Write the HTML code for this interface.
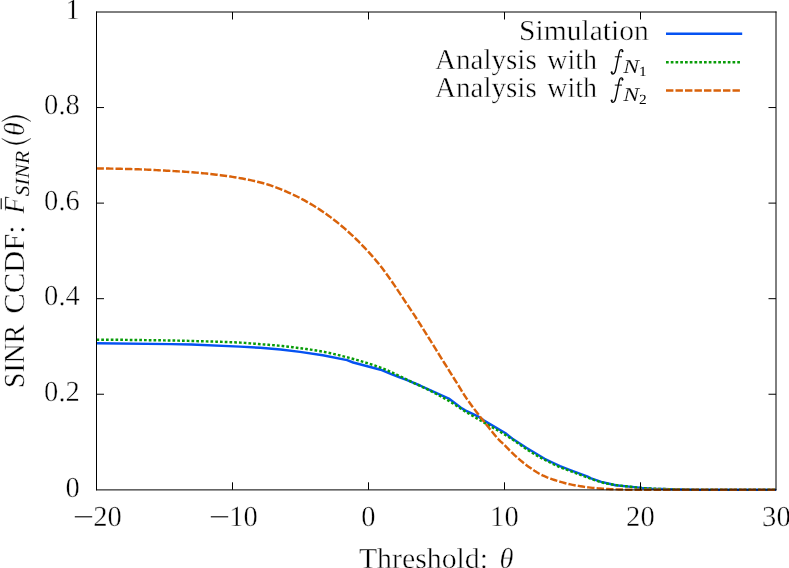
<!DOCTYPE html>
<html><head><meta charset="utf-8"><title>SINR CCDF</title>
<style>html,body{margin:0;padding:0;background:#fff;}svg{display:block;}text{font-family:"Liberation Serif",serif;fill:#000;text-rendering:geometricPrecision;stroke:#fff;stroke-width:0.4px;paint-order:fill stroke;}.i{font-style:italic;}.t{filter:grayscale(1);}</style></head><body>
<svg width="789" height="568" viewBox="0 0 789 568">
<rect x="0" y="0" width="789" height="568" fill="#fff"/>
<g fill="none" stroke-width="2.45" stroke-linejoin="round">
<path d="M96.5,343.3 L171.0,344.1 L191.4,344.5 L240.0,346.6 L260.3,347.8 L280.6,349.5 L300.0,351.9 L322.8,355.2 L347.1,360.1 L353.2,362.5 L380.6,369.7 L391.3,374.2 L398.9,377.0 L406.5,379.8 L420.0,385.5 L430.0,390.2 L448.8,398.6 L461.0,407.7 L465.2,410.4 L478.5,416.7 L484.1,420.6 L505.2,433.0 L512.5,438.8 L526.3,447.7 L544.6,458.8 L554.5,463.5 L560.0,466.2 L570.9,470.3 L587.1,476.4 L591.1,478.4 L601.3,481.9 L611.4,484.3 L615.5,485.3 L631.7,486.9 L641.8,488.0 L652.0,488.6 L670.0,489.2 L700.0,489.8 L776.0,489.8" stroke="#0552f2"/>
<path d="M96.5,339.70 L98.5,339.70 L100.5,339.71 L102.5,339.71 L104.5,339.72 L106.5,339.73 L108.5,339.74 L110.5,339.75 L112.5,339.76 L114.5,339.78 L116.5,339.79 L118.5,339.81 L120.5,339.83 L122.5,339.84 L124.5,339.86 L126.5,339.88 L128.5,339.90 L130.5,339.93 L132.5,339.95 L134.5,339.97 L136.5,340.00 L138.5,340.02 L140.5,340.05 L142.5,340.07 L144.5,340.10 L146.5,340.13 L148.5,340.16 L150.5,340.19 L152.5,340.22 L154.5,340.25 L156.5,340.28 L158.5,340.31 L160.5,340.34 L162.5,340.37 L164.5,340.40 L166.5,340.43 L168.5,340.46 L170.5,340.49 L172.5,340.52 L174.5,340.56 L176.5,340.60 L178.5,340.64 L180.5,340.68 L182.5,340.73 L184.5,340.78 L186.5,340.83 L188.5,340.88 L190.5,340.94 L192.5,340.99 L194.5,341.05 L196.5,341.10 L198.5,341.16 L200.5,341.21 L202.5,341.27 L204.5,341.33 L206.5,341.38 L208.5,341.44 L210.5,341.50 L212.5,341.56 L214.5,341.62 L216.5,341.68 L218.5,341.74 L220.5,341.80 L222.5,341.87 L224.5,341.94 L226.5,342.01 L228.5,342.09 L230.5,342.17 L232.5,342.25 L234.5,342.34 L236.5,342.43 L238.5,342.53 L240.5,342.63 L242.5,342.74 L244.5,342.88 L246.5,343.03 L248.5,343.19 L250.5,343.36 L252.5,343.53 L254.5,343.71 L256.5,343.88 L258.5,344.05 L260.5,344.22 L262.5,344.37 L264.5,344.52 L266.5,344.67 L268.5,344.81 L270.5,344.96 L272.5,345.11 L274.5,345.27 L276.5,345.43 L278.5,345.61 L280.5,345.79 L282.5,345.99 L284.5,346.20 L286.5,346.43 L288.5,346.67 L290.5,346.92 L292.5,347.18 L294.5,347.44 L296.5,347.71 L298.5,347.98 L300.5,348.25 L302.5,348.52 L304.5,348.79 L306.5,349.06 L308.5,349.34 L310.5,349.62 L312.5,349.91 L314.5,350.21 L316.5,350.53 L318.5,350.85 L320.5,351.19 L322.5,351.55 L324.5,351.94 L326.5,352.34 L328.5,352.77 L330.5,353.21 L332.5,353.66 L334.5,354.13 L336.5,354.61 L338.5,355.09 L340.5,355.58 L342.5,356.07 L344.5,356.58 L346.5,357.10 L348.5,357.63 L350.5,358.17 L352.5,358.73 L354.5,359.29 L356.5,359.86 L358.5,360.45 L360.5,361.04 L362.5,361.64 L364.5,362.25 L366.5,362.86 L368.5,363.47 L370.5,364.11 L372.5,364.75 L374.5,365.41 L376.5,366.10 L378.5,366.80 L380.5,367.53 L382.5,368.29 L384.5,369.10 L386.5,369.95 L388.5,370.84 L390.5,371.76 L392.5,372.70 L394.5,373.65 L396.5,374.60 L398.5,375.54 L400.5,376.50 L402.5,377.47 L404.5,378.45 L406.5,379.44 L408.5,380.42 L410.5,381.40 L412.5,382.35 L414.5,383.30 L416.5,384.24 L418.5,385.17 L420.5,386.11 L422.5,387.05 L424.5,388.00 L426.5,388.97 L428.5,389.95 L430.5,390.95 L432.5,391.97 L434.5,392.99 L436.5,394.02 L438.5,395.07 L440.5,396.13 L442.5,397.22 L444.5,398.33 L446.5,399.46 L448.5,400.63 L450.5,401.85 L452.5,403.12 L454.5,404.42 L456.5,405.74 L458.5,407.07 L460.5,408.39 L462.5,409.69 L464.5,410.97 L466.5,412.20 L468.5,413.41 L470.5,414.62 L472.5,415.81 L474.5,416.99 L476.5,418.16 L478.5,419.33 L480.5,420.50 L482.5,421.67 L484.5,422.83 L486.5,423.98 L488.5,425.11 L490.5,426.25 L492.5,427.38 L494.5,428.52 L496.5,429.66 L498.5,430.82 L500.5,432.00 L502.5,433.19 L504.5,434.39 L506.5,435.61 L508.5,436.85 L510.5,438.12 L512.5,439.44 L514.5,440.80 L516.5,442.20 L518.5,443.61 L520.5,445.02 L522.5,446.43 L524.5,447.83 L526.5,449.18 L528.5,450.50 L530.5,451.76 L532.5,452.98 L534.5,454.16 L536.5,455.32 L538.5,456.45 L540.5,457.56 L542.5,458.64 L544.5,459.70 L546.5,460.74 L548.5,461.77 L550.5,462.78 L552.5,463.77 L554.5,464.73 L556.5,465.66 L558.5,466.56 L560.5,467.41 L562.5,468.21 L564.5,468.96 L566.5,469.69 L568.5,470.42 L570.5,471.15 L572.5,471.91 L574.5,472.67 L576.5,473.43 L578.5,474.20 L580.5,474.96 L582.5,475.72 L584.5,476.46 L586.5,477.19 L588.5,477.90 L590.5,478.63 L592.5,479.36 L594.5,480.07 L596.5,480.76 L598.5,481.40 L600.5,481.98 L602.5,482.51 L604.5,483.00 L606.5,483.46 L608.5,483.88 L610.5,484.25 L612.5,484.57 L614.5,484.87 L616.5,485.15 L618.5,485.41 L620.5,485.65 L622.5,485.88 L624.5,486.10 L626.5,486.32 L628.5,486.54 L630.5,486.76 L632.5,486.99 L634.5,487.23 L636.5,487.47 L638.5,487.69 L640.5,487.89 L642.5,488.05 L644.5,488.19 L646.5,488.32 L648.5,488.43 L650.5,488.53 L652.5,488.62 L654.5,488.71 L656.5,488.78 L658.5,488.86 L660.5,488.93 L662.5,488.99 L664.5,489.05 L666.5,489.11 L668.5,489.16 L670.5,489.21 L672.5,489.26 L674.5,489.31 L676.5,489.36 L678.5,489.41 L680.5,489.46 L682.5,489.51 L684.5,489.55 L686.5,489.59 L688.5,489.63 L690.5,489.66 L692.5,489.69 L694.5,489.72 L696.5,489.73 L698.5,489.75 L700.5,489.75 L702.5,489.75 L704.5,489.76 L706.5,489.76 L708.5,489.76 L710.5,489.76 L712.5,489.77 L714.5,489.77 L716.5,489.77 L718.5,489.77 L720.5,489.77 L722.5,489.78 L724.5,489.78 L726.5,489.78 L728.5,489.78 L730.5,489.78 L732.5,489.79 L734.5,489.79 L736.5,489.79 L738.5,489.79 L740.5,489.79 L742.5,489.79 L744.5,489.79 L746.5,489.79 L748.5,489.79 L750.5,489.80 L752.5,489.80 L754.5,489.80 L756.5,489.80 L758.5,489.80 L760.5,489.80 L762.5,489.80 L764.5,489.80 L766.5,489.80 L768.5,489.80 L770.5,489.80 L772.5,489.80 L774.5,489.80 L776.0,489.80" stroke="#089c08" stroke-dasharray="2.7 2.05"/>
<path d="M96.5,168.40 L98.5,168.42 L100.5,168.45 L102.5,168.48 L104.5,168.51 L106.5,168.54 L108.5,168.57 L110.5,168.61 L112.5,168.65 L114.5,168.69 L116.5,168.73 L118.5,168.77 L120.5,168.81 L122.5,168.86 L124.5,168.90 L126.5,168.96 L128.5,169.01 L130.5,169.07 L132.5,169.13 L134.5,169.19 L136.5,169.25 L138.5,169.32 L140.5,169.39 L142.5,169.47 L144.5,169.55 L146.5,169.64 L148.5,169.73 L150.5,169.83 L152.5,169.93 L154.5,170.03 L156.5,170.14 L158.5,170.25 L160.5,170.35 L162.5,170.46 L164.5,170.57 L166.5,170.68 L168.5,170.79 L170.5,170.90 L172.5,171.01 L174.5,171.12 L176.5,171.23 L178.5,171.35 L180.5,171.47 L182.5,171.59 L184.5,171.72 L186.5,171.85 L188.5,171.99 L190.5,172.13 L192.5,172.28 L194.5,172.44 L196.5,172.61 L198.5,172.79 L200.5,172.97 L202.5,173.16 L204.5,173.36 L206.5,173.56 L208.5,173.77 L210.5,173.99 L212.5,174.21 L214.5,174.44 L216.5,174.68 L218.5,174.92 L220.5,175.17 L222.5,175.43 L224.5,175.70 L226.5,175.98 L228.5,176.27 L230.5,176.56 L232.5,176.87 L234.5,177.19 L236.5,177.52 L238.5,177.86 L240.5,178.21 L242.5,178.57 L244.5,178.95 L246.5,179.34 L248.5,179.74 L250.5,180.16 L252.5,180.60 L254.5,181.05 L256.5,181.53 L258.5,182.01 L260.5,182.52 L262.5,183.04 L264.5,183.58 L266.5,184.14 L268.5,184.73 L270.5,185.37 L272.5,186.06 L274.5,186.78 L276.5,187.54 L278.5,188.31 L280.5,189.10 L282.5,189.91 L284.5,190.75 L286.5,191.63 L288.5,192.52 L290.5,193.43 L292.5,194.35 L294.5,195.29 L296.5,196.26 L298.5,197.25 L300.5,198.28 L302.5,199.35 L304.5,200.44 L306.5,201.56 L308.5,202.70 L310.5,203.86 L312.5,205.05 L314.5,206.27 L316.5,207.52 L318.5,208.80 L320.5,210.10 L322.5,211.43 L324.5,212.80 L326.5,214.21 L328.5,215.66 L330.5,217.14 L332.5,218.66 L334.5,220.22 L336.5,221.80 L338.5,223.42 L340.5,225.06 L342.5,226.74 L344.5,228.44 L346.5,230.19 L348.5,231.97 L350.5,233.80 L352.5,235.66 L354.5,237.56 L356.5,239.50 L358.5,241.47 L360.5,243.48 L362.5,245.52 L364.5,247.60 L366.5,249.72 L368.5,251.89 L370.5,254.11 L372.5,256.39 L374.5,258.72 L376.5,261.10 L378.5,263.54 L380.5,266.03 L382.5,268.61 L384.5,271.28 L386.5,274.01 L388.5,276.80 L390.5,279.63 L392.5,282.49 L394.5,285.39 L396.5,288.36 L398.5,291.36 L400.5,294.40 L402.5,297.43 L404.5,300.45 L406.5,303.44 L408.5,306.42 L410.5,309.41 L412.5,312.40 L414.5,315.42 L416.5,318.48 L418.5,321.59 L420.5,324.73 L422.5,327.91 L424.5,331.10 L426.5,334.31 L428.5,337.52 L430.5,340.72 L432.5,343.94 L434.5,347.17 L436.5,350.40 L438.5,353.62 L440.5,356.83 L442.5,360.03 L444.5,363.24 L446.5,366.44 L448.5,369.64 L450.5,372.85 L452.5,376.05 L454.5,379.26 L456.5,382.46 L458.5,385.71 L460.5,388.98 L462.5,392.22 L464.5,395.34 L466.5,398.32 L468.5,401.18 L470.5,403.96 L472.5,406.68 L474.5,409.37 L476.5,412.00 L478.5,414.59 L480.5,417.14 L482.5,419.69 L484.5,422.25 L486.5,424.80 L488.5,427.34 L490.5,429.83 L492.5,432.27 L494.5,434.70 L496.5,437.07 L498.5,439.29 L500.5,441.29 L502.5,443.17 L504.5,445.10 L506.5,447.13 L508.5,449.20 L510.5,451.25 L512.5,453.21 L514.5,455.09 L516.5,456.91 L518.5,458.68 L520.5,460.39 L522.5,462.03 L524.5,463.63 L526.5,465.17 L528.5,466.65 L530.5,468.07 L532.5,469.44 L534.5,470.78 L536.5,472.04 L538.5,473.22 L540.5,474.29 L542.5,475.29 L544.5,476.22 L546.5,477.09 L548.5,477.89 L550.5,478.64 L552.5,479.35 L554.5,480.02 L556.5,480.65 L558.5,481.26 L560.5,481.84 L562.5,482.41 L564.5,482.96 L566.5,483.48 L568.5,483.97 L570.5,484.42 L572.5,484.83 L574.5,485.21 L576.5,485.56 L578.5,485.90 L580.5,486.22 L582.5,486.53 L584.5,486.84 L586.5,487.12 L588.5,487.39 L590.5,487.63 L592.5,487.85 L594.5,488.04 L596.5,488.22 L598.5,488.39 L600.5,488.54 L602.5,488.68 L604.5,488.82 L606.5,488.95 L608.5,489.07 L610.5,489.16 L612.5,489.24 L614.5,489.31 L616.5,489.39 L618.5,489.45 L620.5,489.52 L622.5,489.57 L624.5,489.62 L626.5,489.66 L628.5,489.68 L630.5,489.70 L632.5,489.70 L634.5,489.71 L636.5,489.71 L638.5,489.71 L640.5,489.72 L642.5,489.72 L644.5,489.72 L646.5,489.73 L648.5,489.73 L650.5,489.73 L652.5,489.73 L654.5,489.74 L656.5,489.74 L658.5,489.74 L660.5,489.74 L662.5,489.75 L664.5,489.75 L666.5,489.75 L668.5,489.75 L670.5,489.76 L672.5,489.76 L674.5,489.76 L676.5,489.76 L678.5,489.76 L680.5,489.76 L682.5,489.77 L684.5,489.77 L686.5,489.77 L688.5,489.77 L690.5,489.77 L692.5,489.77 L694.5,489.78 L696.5,489.78 L698.5,489.78 L700.5,489.78 L702.5,489.78 L704.5,489.78 L706.5,489.78 L708.5,489.78 L710.5,489.79 L712.5,489.79 L714.5,489.79 L716.5,489.79 L718.5,489.79 L720.5,489.79 L722.5,489.79 L724.5,489.79 L726.5,489.79 L728.5,489.79 L730.5,489.79 L732.5,489.79 L734.5,489.80 L736.5,489.80 L738.5,489.80 L740.5,489.80 L742.5,489.80 L744.5,489.80 L746.5,489.80 L748.5,489.80 L750.5,489.80 L752.5,489.80 L754.5,489.80 L756.5,489.80 L758.5,489.80 L760.5,489.80 L762.5,489.80 L764.5,489.80 L766.5,489.80 L768.5,489.80 L770.5,489.80 L772.5,489.80 L774.5,489.80 L776.0,489.80" stroke="#d9620a" stroke-dasharray="7.4 2.1"/>
<line x1="666" y1="33.65" x2="742.2" y2="33.65" stroke="#0552f2"/>
<line x1="666" y1="62.2" x2="741.8" y2="62.2" stroke="#089c08" stroke-dasharray="2.7 2.05"/>
<line x1="666" y1="90.5" x2="741.8" y2="90.5" stroke="#d9620a" stroke-dasharray="7.4 2.1"/>
</g>
<g stroke="#000" stroke-width="1" fill="none">
<line x1="96.5" y1="11.5" x2="96.5" y2="490.3"/>
<line x1="96.0" y1="12.0" x2="776.5" y2="12.0"/>
<line x1="776.0" y1="11.5" x2="776.0" y2="490.3"/>
<line x1="96.0" y1="489.90" x2="776.5" y2="489.90"/>
<line x1="232.5" y1="489.8" x2="232.5" y2="482.3"/>
<line x1="232.5" y1="12.0" x2="232.5" y2="19.5"/>
<line x1="368.5" y1="489.8" x2="368.5" y2="482.3"/>
<line x1="368.5" y1="12.0" x2="368.5" y2="19.5"/>
<line x1="504.5" y1="489.8" x2="504.5" y2="482.3"/>
<line x1="504.5" y1="12.0" x2="504.5" y2="19.5"/>
<line x1="640.5" y1="489.8" x2="640.5" y2="482.3"/>
<line x1="640.5" y1="12.0" x2="640.5" y2="19.5"/>
<line x1="96.5" y1="394.24" x2="104.0" y2="394.24"/>
<line x1="776.0" y1="394.24" x2="768.5" y2="394.24"/>
<line x1="96.5" y1="298.68" x2="104.0" y2="298.68"/>
<line x1="776.0" y1="298.68" x2="768.5" y2="298.68"/>
<line x1="96.5" y1="203.12" x2="104.0" y2="203.12"/>
<line x1="776.0" y1="203.12" x2="768.5" y2="203.12"/>
<line x1="96.5" y1="107.56" x2="104.0" y2="107.56"/>
<line x1="776.0" y1="107.56" x2="768.5" y2="107.56"/>
</g>
<g class="t">
<line x1="74.8" y1="516.8" x2="92.19999999999999" y2="516.8" stroke="#000" stroke-width="1.1"/>
<line x1="210.8" y1="516.8" x2="228.20000000000002" y2="516.8" stroke="#000" stroke-width="1.1"/>
<text font-size="28" transform="translate(93.20 526.00) scale(1.02 1.035)">20</text>
<text font-size="28" transform="translate(229.20 526.00) scale(1.02 1.035)">10</text>
<text font-size="28" transform="translate(361.30 526.00) scale(1.02 1.035)">0</text>
<text font-size="28" transform="translate(490.10 526.00) scale(1.02 1.035)">10</text>
<text font-size="28" transform="translate(626.10 526.00) scale(1.02 1.035)">20</text>
<text font-size="28" transform="translate(762.10 526.00) scale(1.02 1.035)">30</text>
<text text-anchor="end" font-size="28" transform="translate(79.80 496.50) scale(1.02 1.035)">0</text>
<text text-anchor="end" font-size="28" transform="translate(79.80 400.94) scale(1.02 1.035)">0.2</text>
<text text-anchor="end" font-size="28" transform="translate(79.80 305.38) scale(1.02 1.035)">0.4</text>
<text text-anchor="end" font-size="28" transform="translate(79.80 209.82) scale(1.02 1.035)">0.6</text>
<text text-anchor="end" font-size="28" transform="translate(79.80 114.26) scale(1.02 1.035)">0.8</text>
<text text-anchor="end" font-size="28" transform="translate(79.80 18.70) scale(1.02 1.035)">1</text>
<text font-size="28" transform="translate(358.90 568.00) scale(1.064 1.03)">Threshold:</text>
<text class="i" font-size="28" transform="translate(499.60 568.00) scale(1.02 1.03)">θ</text>
<text font-size="28" transform="translate(519.10 40.40) scale(1.055 1.03)">Simulation</text>
<text font-size="28" transform="translate(435.00 68.70) scale(1.038 1.03)">Analysis</text>
<text font-size="28" transform="translate(547.30 68.70) scale(1.0 1.02)">with</text>
<g transform="translate(0 0)" fill="none" stroke="#000" stroke-linecap="round"><path d="M622.6 51.2 C622.9 49.4 620.5 48.8 619.6 51.4 C618.8 54 618.1 58.2 617.0 63.6 C616.3 67.2 615.8 70.4 614.9 72.3 C614.0 74.5 611.7 74.6 611.5 72.6" stroke-width="1.35"/><path d="M614.8 56.8 L622.0 56.8" stroke-width="0.95" stroke-linecap="butt"/><circle cx="622.4" cy="51.3" r="1.05" fill="#000" stroke="none"/><circle cx="611.7" cy="72.3" r="1.05" fill="#000" stroke="none"/></g>
<text class="i" style="stroke-width:0.12px" font-size="19.5" transform="translate(623.30 73.10) scale(1.22 1.0)">N</text>
<text style="stroke:none" font-size="14" transform="translate(638.90 75.60) scale(1.1 1.0)">1</text>
<text font-size="28" transform="translate(435.00 97.00) scale(1.038 1.03)">Analysis</text>
<text font-size="28" transform="translate(547.30 97.00) scale(1.0 1.02)">with</text>
<g transform="translate(0 28.3)" fill="none" stroke="#000" stroke-linecap="round"><path d="M622.6 51.2 C622.9 49.4 620.5 48.8 619.6 51.4 C618.8 54 618.1 58.2 617.0 63.6 C616.3 67.2 615.8 70.4 614.9 72.3 C614.0 74.5 611.7 74.6 611.5 72.6" stroke-width="1.35"/><path d="M614.8 56.8 L622.0 56.8" stroke-width="0.95" stroke-linecap="butt"/><circle cx="622.4" cy="51.3" r="1.05" fill="#000" stroke="none"/><circle cx="611.7" cy="72.3" r="1.05" fill="#000" stroke="none"/></g>
<text class="i" style="stroke-width:0.12px" font-size="19.5" transform="translate(623.30 101.40) scale(1.22 1.0)">N</text>
<text style="stroke:none" font-size="14" transform="translate(638.90 103.90) scale(1.1 1.0)">2</text>
</g>
<g class="t" transform="rotate(-90)">
<text font-size="28" transform="translate(-387.90 24.20) scale(0.99 1.04)">SINR</text>
<text font-size="28" transform="translate(-313.80 24.20) scale(1.095 1.04)">CCDF:</text>
<text class="i" font-size="28" transform="translate(-213.80 24.40) scale(1.0 1.04)">F</text>
<line x1="-209.2" y1="1.2" x2="-198.2" y2="1.2" stroke="#000" stroke-width="1.1"/>
<text class="i" style="stroke-width:0.12px" font-size="19.5" transform="translate(-196.20 28.90) scale(1.1 1.03)">SINR</text>
<path d="M-138.5 1.7 Q-150.4 16.3 -138.5 30.9 Q-147.4 16.3 -138.5 1.7Z" fill="#000" stroke="#000" stroke-width="0.35" stroke-linejoin="round"/>
<text class="i" font-size="28" transform="translate(-136.00 24.40) scale(1.0 1.04)">θ</text>
<path d="M-121.4 1.7 Q-109.5 16.3 -121.4 30.9 Q-112.5 16.3 -121.4 1.7Z" fill="#000" stroke="#000" stroke-width="0.35" stroke-linejoin="round"/>
</g>
</svg></body></html>
